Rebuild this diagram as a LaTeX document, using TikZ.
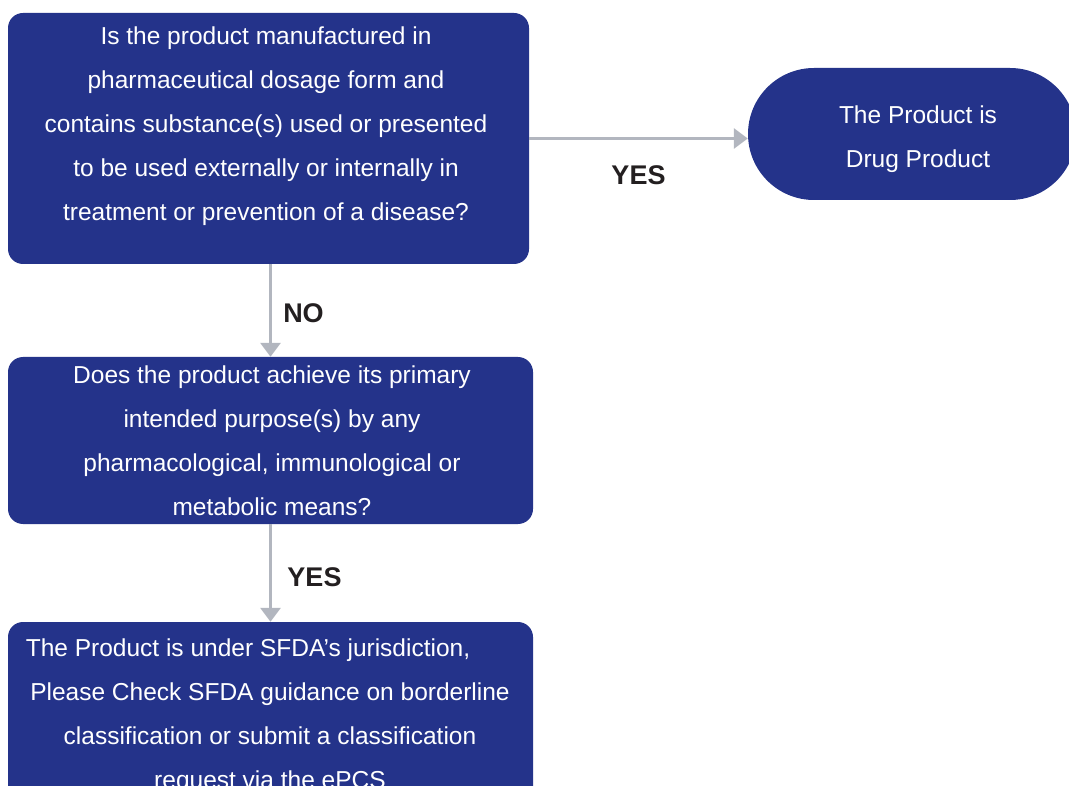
\documentclass[tikz,border=0pt]{standalone}
\usepackage{fontspec}
\setmainfont{Liberation Sans}
\usetikzlibrary{arrows.meta}

\definecolor{boxblue}{RGB}{36,51,138}
\definecolor{arrowgray}{RGB}{178,182,191}
\definecolor{labelblack}{RGB}{35,31,32}

\begin{document}
\begin{tikzpicture}[x=1pt,y=1pt,
    box/.style={fill=boxblue, rounded corners=15pt, inner sep=0pt},
    boxtext/.style={text=white, align=center, font=\fontsize{24.5}{44}\selectfont},
    flow/.style={arrowgray, line width=3pt, -{Triangle[length=14pt,width=20pt]}},
    lbl/.style={text=labelblack, font=\fontsize{27}{30}\selectfont\bfseries}]
    \useasboundingbox (0,0) rectangle (1069,-786);
    \clip (0,0) rectangle (1069,-786);

    % boxes
    \node[box, minimum width=521pt, minimum height=251pt] (q1) at (268.5,-138.5) {};
    \node[box, rounded corners=66pt, minimum width=328pt, minimum height=132pt] (res) at (912,-134) {};
    \node[box, minimum width=525pt, minimum height=167pt] (q2) at (270.5,-440.5) {};
    \node[box, minimum width=525pt, minimum height=260pt] (q3) at (270.5,-752) {};

    % texts
    \node[boxtext] (q1text) at (266,-126.5) {Is the product manufactured in\\
        pharmaceutical dosage form and\\
        contains substance(s) used or presented\\
        to be used externally or internally in\\
        treatment or prevention of a disease?};
    \node[boxtext] (restext) at (918,-139.5) {The Product is\\ Drug Product};
    \node[boxtext] (q2text) at (272,-440.5) {Does the product achieve its primary\\
        intended purpose(s) by any\\
        pharmacological, immunological or\\
        metabolic means?};
    \node[boxtext] (q3text) at (270,-716.5) {The Product is under SFDA’s jurisdiction,\hspace{44pt}\mbox{}\\
        Please Check SFDA guidance on borderline\\
        classification or submit a classification\\
        request via the ePCS};

    % arrows
    \draw[flow] (q1.east) -- (q1.east -| res.west)
        node[lbl, midway, yshift=-37pt] (yes1) {YES};
    \draw[flow] (q2.north |- q1.south) -- (q2.north)
        node[lbl, midway, xshift=33pt, yshift=-3pt] (no1) {NO};
    \draw[flow] (q2.south) -- (q3.north)
        node[lbl, midway, xshift=44pt, yshift=-4pt] (yes2) {YES};
\end{tikzpicture}
\end{document}
